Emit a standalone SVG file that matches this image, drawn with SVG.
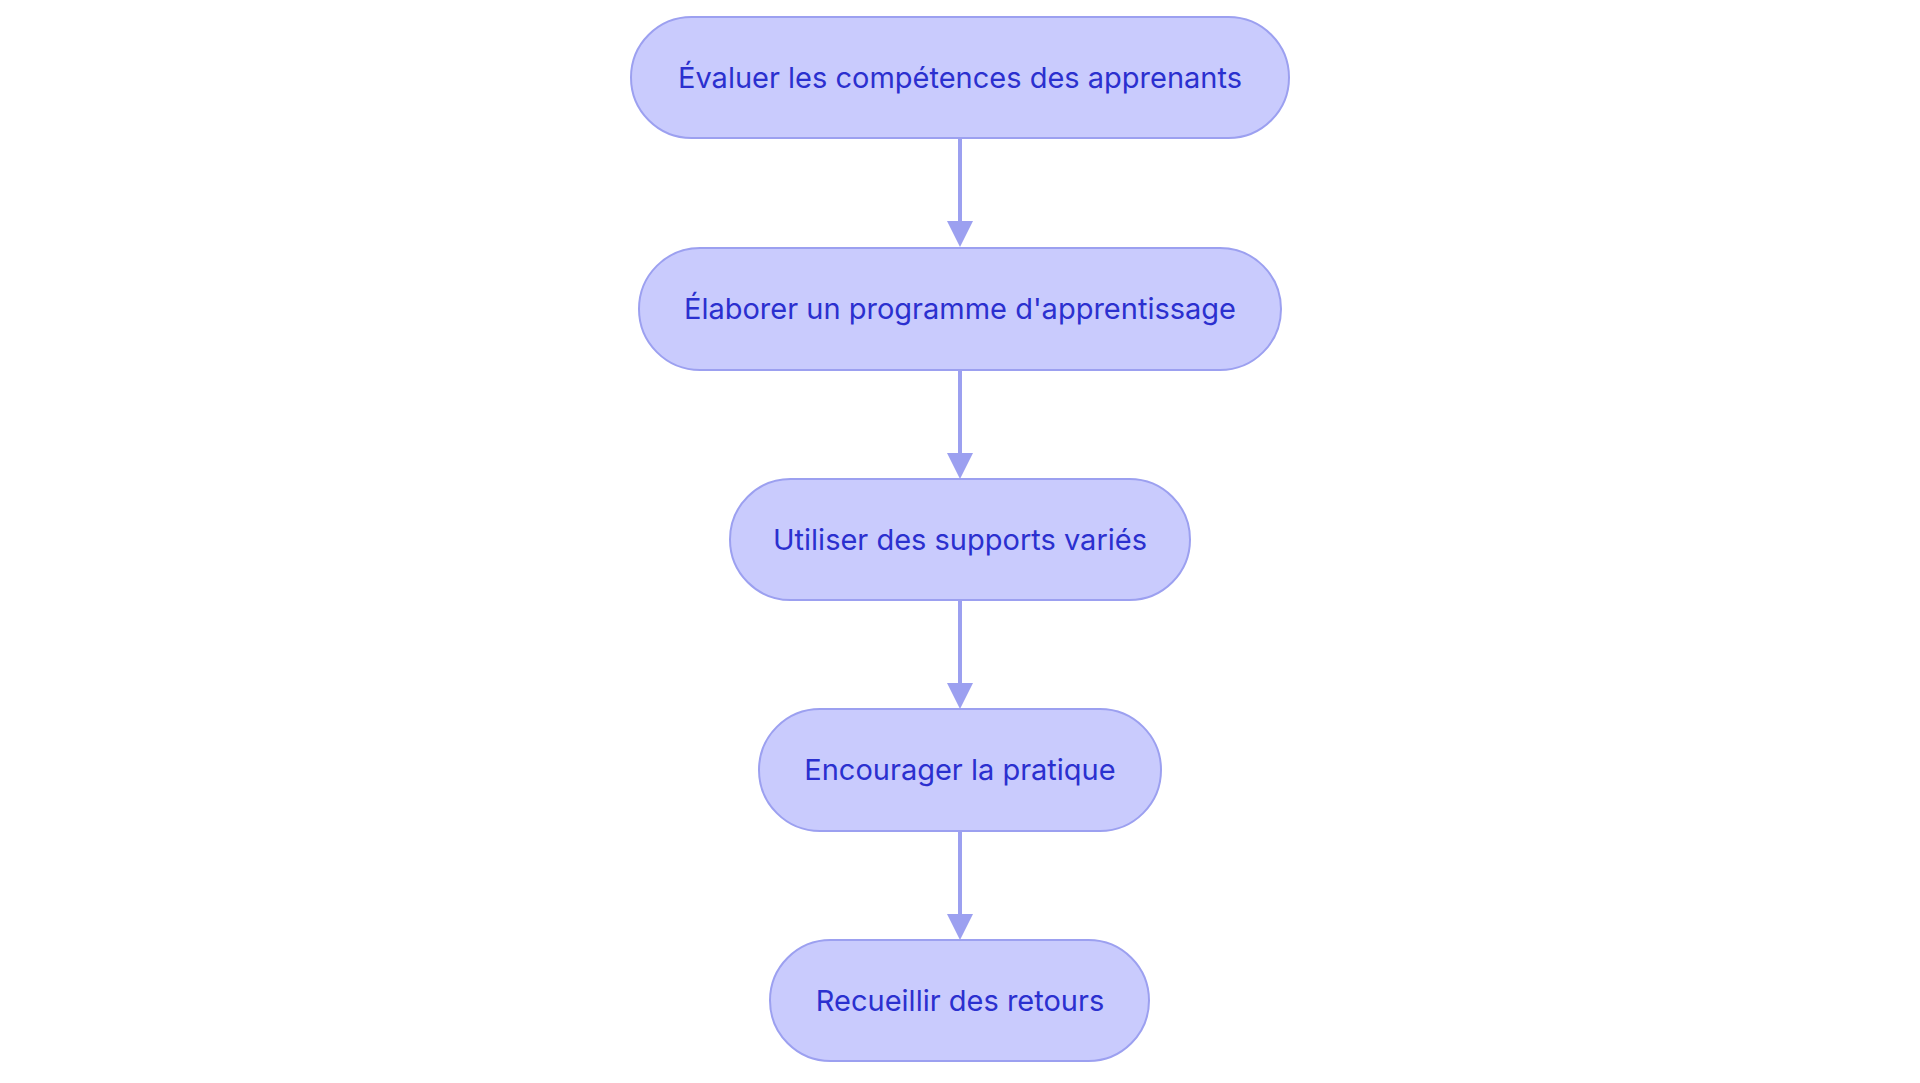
<svg xmlns="http://www.w3.org/2000/svg" width="1920" height="1083" viewBox="0 0 1920 1083">
<style>
.n{fill:#c9cbfd;stroke:#9ca0f0;stroke-width:2}
.t{font-family:Inter,"Noto Sans",sans-serif;font-size:29px;fill:#2b30cf;text-anchor:middle;dominant-baseline:central}
.e{stroke:#9ca0f0;stroke-width:4;fill:none}
</style>
<defs><marker id="a" markerUnits="userSpaceOnUse" markerWidth="26" markerHeight="26" refX="13" refY="26" orient="auto-start-reverse" viewBox="0 0 26 26"><path d="M0,0 L26,0 L13,26 Z" fill="#9ca0f0" transform="rotate(0)"/></marker></defs>
<rect width="1920" height="1083" fill="#fff"/>
<g id="edges">
<line class="e" x1="960" y1="138" x2="960" y2="221"/>
<path d="M947,221 L973,221 L960,247 Z" fill="#9ca0f0"/>
<line class="e" x1="960" y1="370" x2="960" y2="453"/>
<path d="M947,453 L973,453 L960,479 Z" fill="#9ca0f0"/>
<line class="e" x1="960" y1="600" x2="960" y2="683"/>
<path d="M947,683 L973,683 L960,709 Z" fill="#9ca0f0"/>
<line class="e" x1="960" y1="831" x2="960" y2="914"/>
<path d="M947,914 L973,914 L960,940 Z" fill="#9ca0f0"/>
</g>
<g id="n1"><rect class="n" x="631" y="17" width="658" height="121" rx="60.5"/><text class="t" x="960" y="77">Évaluer les compétences des apprenants</text></g>
<g id="n2"><rect class="n" x="639" y="248" width="642" height="122" rx="61"/><text class="t" x="960" y="308">Élaborer un programme d'apprentissage</text></g>
<g id="n3"><rect class="n" x="730" y="479" width="460" height="121" rx="60.5"/><text class="t" x="960" y="539">Utiliser des supports variés</text></g>
<g id="n4"><rect class="n" x="759" y="709" width="402" height="122" rx="61"/><text class="t" x="960" y="769">Encourager la pratique</text></g>
<g id="n5"><rect class="n" x="770" y="940" width="379" height="121" rx="60.5"/><text class="t" x="960" y="1000">Recueillir des retours</text></g>
</svg>
